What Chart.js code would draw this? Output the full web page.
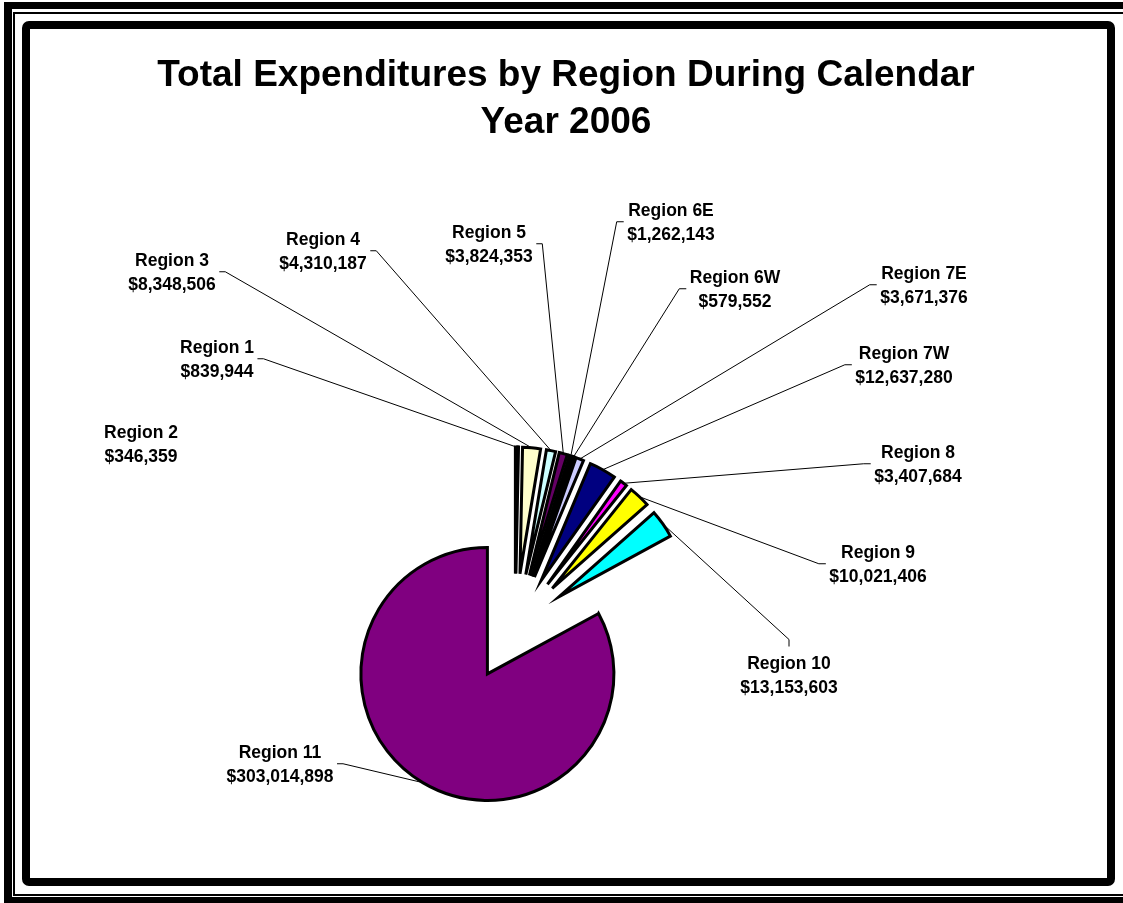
<!DOCTYPE html>
<html>
<head>
<meta charset="utf-8">
<title>Total Expenditures by Region During Calendar Year 2006</title>
<script src="https://cdn.jsdelivr.net/npm/chart.js@4.4.1/dist/chart.umd.min.js"></script>
<style>
html, body { margin:0; padding:0; background:#fff; }
body { width:1123px; height:903px; position:relative; overflow:hidden; }
/* page border: thick + thin rule, then the rounded chart frame */
.frame-outer { position:absolute; left:4px; top:2px; width:1200px; height:901px; box-sizing:border-box;
  border:solid #000; border-width:7px 0 6px 8px; }
.frame-thin { position:absolute; left:13px; top:12px; width:1200px; height:884px; box-sizing:border-box;
  border:2px solid #000; border-right:none; }
.frame-inner { position:absolute; left:22px; top:21px; width:1093px; height:865px; box-sizing:border-box;
  border:8px solid #000; border-radius:7px; }
#chart { position:absolute; left:0; top:0; z-index:2; }
</style>
</head>
<body>
<div class="frame-outer"></div>
<div class="frame-thin"></div>
<div class="frame-inner"></div>
<canvas id="chart" width="1123" height="903"></canvas>
<script>
/* ── data ── */
var regions = ['Region 1', 'Region 2', 'Region 3', 'Region 4', 'Region 5', 'Region 6E', 'Region 6W',
  'Region 7E', 'Region 7W', 'Region 8', 'Region 9', 'Region 10', 'Region 11'];
var spending = [839944, 346359, 8348506, 4310187, 3824353, 1262143, 579552,
  3671376, 12637280, 3407684, 10021406, 13153603, 303014898];
var sliceColors = ['#9999FF', '#993366', '#FFFFCC', '#CCFFFF', '#660066', '#FF8080', '#0066CC',
  '#CCCCFF', '#000080', '#FF00FF', '#FFFF00', '#00FFFF', '#800080'];
var titleLines = ['Total Expenditures by Region During Calendar', 'Year 2006'];

/* ── label placement: centre x, first line y, side the leader leaves from ── */
var labelSpots = [
  [217, 347, 'r'], [141, 432, null], [172, 260, 'r'], [323, 239, 'r'], [489, 232, 'r'],
  [671, 210, 'l'], [735, 277, 'l'], [924, 273, 'l'], [904, 353, 'l'], [918, 452, 'l'],
  [878, 552, 'l'], [789, 663, 't'], [280, 752, 'r']
];

var EXPLODE = 54;
var RADIUS = 126.5;
var LINE = 23.5;
var FONT = '"Liberation Sans", Arial, sans-serif';

function money(v){
  return '$' + v.toLocaleString('en-US');
}

/* ── push every slice out along its own bisector ── */
var explodePlugin = {
  id: 'explode',
  afterDatasetUpdate: function(chart, args){
    args.meta.data.forEach(function(arc){
      var mid = (arc.startAngle + arc.endAngle) / 2;
      arc.x += Math.cos(mid) * EXPLODE;
      arc.y += Math.sin(mid) * EXPLODE;
    });
  }
};

/* ── name / amount labels with leader lines ── */
var labelPlugin = {
  id: 'sliceLabels',
  afterDatasetsDraw: function(chart){
    var ctx = chart.ctx;
    var arcs = chart.getDatasetMeta(0).data;
    ctx.save();
    ctx.font = 'bold 17.5px ' + FONT;
    ctx.fillStyle = '#000';
    ctx.strokeStyle = '#000';
    ctx.lineWidth = 1;
    ctx.textAlign = 'center';
    ctx.textBaseline = 'alphabetic';

    regions.forEach(function(name, i){
      var spot = labelSpots[i];
      var x = spot[0], y = spot[1];
      var amount = money(spending[i]);
      ctx.fillText(name, x, y + 6.3);
      ctx.fillText(amount, x, y + LINE + 6.3);
      if(!spot[2]) return;

      var half = Math.max(ctx.measureText(name).width, ctx.measureText(amount).width) / 2 + 3.5;
      var ax, ay, sx, sy;
      if(spot[2] === 'r'){ ax = x + half; ay = y + LINE / 2; sx = ax + 6; sy = ay; }
      else if(spot[2] === 'l'){ ax = x - half; ay = y + LINE / 2; sx = ax - 7; sy = ay; }
      else { ax = x; ay = y - 16.5; sx = ax; sy = ay - 7; }

      var arc = arcs[i];
      var mid = (arc.startAngle + arc.endAngle) / 2;
      var ex = arc.x + Math.cos(mid) * arc.outerRadius;
      var ey = arc.y + Math.sin(mid) * arc.outerRadius;

      ctx.beginPath();
      ctx.moveTo(ax, ay);
      ctx.lineTo(sx, sy);
      ctx.lineTo(ex, ey);
      ctx.stroke();
    });
    ctx.restore();
  }
};

/* ── two-line heading ── */
var headingPlugin = {
  id: 'heading',
  afterDraw: function(chart){
    var ctx = chart.ctx;
    ctx.save();
    ctx.font = 'bold 37px ' + FONT;
    ctx.fillStyle = '#000';
    ctx.textAlign = 'center';
    ctx.textBaseline = 'alphabetic';
    titleLines.forEach(function(t, i){
      ctx.fillText(t, 566, 86 + i * 47);
    });
    ctx.restore();
  }
};

new Chart(document.getElementById('chart'), {
  type: 'pie',
  data: {
    labels: regions,
    datasets: [{
      data: spending,
      backgroundColor: sliceColors,
      borderColor: '#000',
      borderWidth: 3,
      borderJoinStyle: 'miter',
      radius: RADIUS
    }]
  },
  options: {
    responsive: false,
    animation: false,
    events: [],
    layout: { padding: { left: 0, right: 93, top: 352, bottom: 0 } },
    plugins: {
      legend: { display: false },
      tooltip: { enabled: false },
      title: { display: false }
    }
  },
  plugins: [explodePlugin, labelPlugin, headingPlugin]
});
</script>
</body>
</html>
